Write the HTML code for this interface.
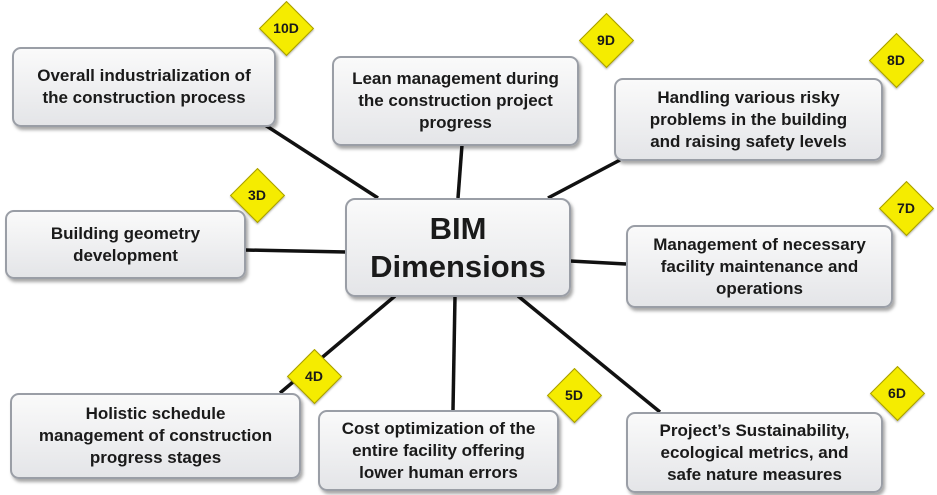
<!DOCTYPE html>
<html><head><style>
body{margin:0;width:937px;height:495px;background:#fff;position:relative;overflow:hidden;font-family:"Liberation Sans",sans-serif;}
.b{position:absolute;box-sizing:border-box;border:2px solid #9a9ea6;border-radius:9px;background:linear-gradient(#fafafa,#e4e5e8);box-shadow:2px 3px 3px rgba(0,0,0,.35);display:flex;align-items:center;justify-content:center;text-align:center;font-weight:bold;font-size:17px;line-height:22px;color:#1a1a1a;}
.d{position:absolute;width:37px;height:37px;background:#f5ec00;border:1.5px solid #a89e00;transform:rotate(45deg);box-shadow:1px 1px 2px rgba(0,0,0,.3);}
.t{position:absolute;width:50px;text-align:center;font-weight:bold;font-size:14px;color:#1a1a1a;}
svg{position:absolute;left:0;top:0}
</style></head><body>
<svg width="937" height="495"><g stroke="#111" stroke-width="3.5">
<line x1="265" y1="125" x2="378" y2="198"/>
<line x1="462" y1="145" x2="458" y2="198"/>
<line x1="620" y1="160" x2="548" y2="198"/>
<line x1="245" y1="250" x2="346" y2="252"/>
<line x1="570" y1="261" x2="626" y2="264"/>
<line x1="280" y1="393" x2="395" y2="296"/>
<line x1="453" y1="410" x2="455" y2="296"/>
<line x1="518" y1="296" x2="660" y2="412"/>
</g></svg>
<div class="b" style="left:12px;top:47px;width:264px;height:80px">Overall industrialization of<br>the construction process</div>
<div class="b" style="left:332px;top:56px;width:247px;height:90px">Lean management during<br>the construction project<br>progress</div>
<div class="b" style="left:614px;top:78px;width:269px;height:83px">Handling various risky<br>problems in the building<br>and raising safety levels</div>
<div class="b" style="left:5px;top:210px;width:241px;height:69px">Building geometry<br>development</div>
<div class="b" style="left:345px;top:198px;width:226px;height:99px;font-size:31px;line-height:38px;border-radius:10px">BIM<br>Dimensions</div>
<div class="b" style="left:626px;top:225px;width:267px;height:83px">Management of necessary<br>facility maintenance and<br>operations</div>
<div class="b" style="left:10px;top:393px;width:291px;height:86px">Holistic schedule<br>management of construction<br>progress stages</div>
<div class="b" style="left:318px;top:410px;width:241px;height:81px">Cost optimization of the<br>entire facility offering<br>lower human errors</div>
<div class="b" style="left:626px;top:412px;width:257px;height:81px">Project’s Sustainability,<br>ecological metrics, and<br>safe nature measures</div>
<div class="d" style="left:267px;top:9px"></div><div class="t" style="left:261px;top:20px">10D</div>
<div class="d" style="left:587px;top:21px"></div><div class="t" style="left:581px;top:32px">9D</div>
<div class="d" style="left:877px;top:41px"></div><div class="t" style="left:871px;top:52px">8D</div>
<div class="d" style="left:238px;top:176px"></div><div class="t" style="left:232px;top:187px">3D</div>
<div class="d" style="left:887px;top:189px"></div><div class="t" style="left:881px;top:200px">7D</div>
<div class="d" style="left:295px;top:357px"></div><div class="t" style="left:289px;top:368px">4D</div>
<div class="d" style="left:555px;top:376px"></div><div class="t" style="left:549px;top:387px">5D</div>
<div class="d" style="left:878px;top:374px"></div><div class="t" style="left:872px;top:385px">6D</div>
</body></html>
